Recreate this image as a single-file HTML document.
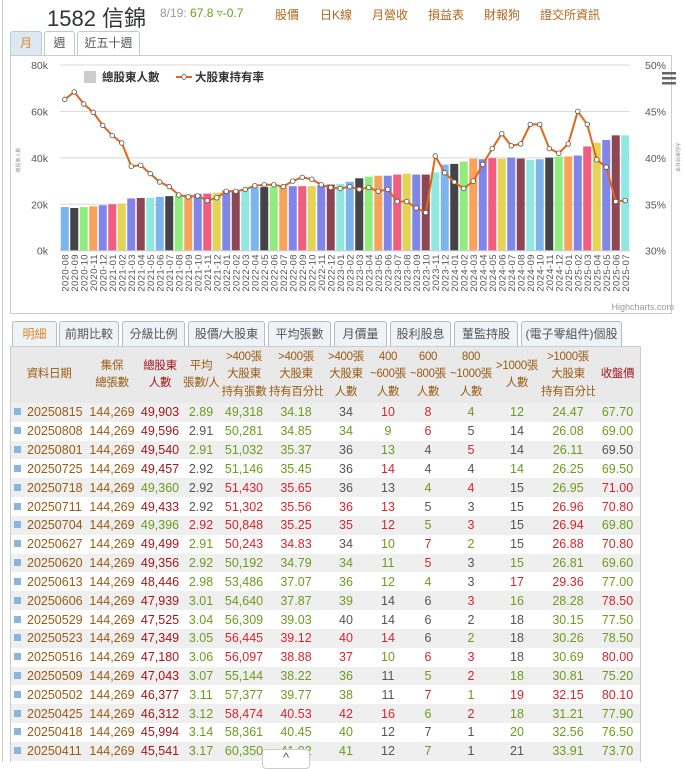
<!DOCTYPE html>
<html><head><meta charset="utf-8">
<style>
*{box-sizing:border-box;margin:0;padding:0}
body{width:685px;height:762px;overflow:hidden;background:#fff;font-family:"Liberation Sans","Noto Sans CJK TC",sans-serif;position:relative;color:#444}
.abs{position:absolute}
.lnk{position:absolute;top:6px;font-size:12px;color:#b0661f}
.tab{position:absolute;border:1px solid #bcc;border-bottom:none;border-radius:3px 3px 0 0;background:#eef4f8;font-size:12px;color:#555;text-align:center;line-height:22px}
.ttab{position:absolute;top:321px;height:26px;border:1px solid #bbb;border-bottom:none;border-radius:3px 3px 0 0;background:#eef3f7;font-size:12px;color:#555;text-align:center;line-height:24px}
table{position:absolute;left:11px;top:347px;width:629px;border-collapse:collapse;font-size:12.5px;table-layout:fixed}
th{font-weight:normal;color:#9a5b13;background:#e9e9e9;font-size:11.5px;line-height:17.5px;padding:0;white-space:nowrap;overflow:hidden;letter-spacing:-0.3px}
thead tr{height:56px}
td{height:18.83px;padding:0;text-align:center;white-space:nowrap}
tr.z td{background:#efefef}
td.d{color:#9a5b13;text-align:left;padding-left:3px}
td.d:before{content:"";display:inline-block;width:7px;height:7px;background:#8ab6dc;margin-right:6px;vertical-align:1px}
.G{color:#6d9b1e}.R{color:#d4262f}.K{color:#555}.B{color:#9a5b13}.D{color:#a3161b}
</style></head><body>
<div class="abs" style="left:2px;top:0;width:1px;height:762px;background:#ccc"></div>
<div class="abs" style="left:47px;top:1px;font-size:22px;color:#333">1582 信錦</div>
<div class="abs" style="left:160px;top:6px;font-size:12px;color:#999">8/19: <span style="color:#6d9b1e">67.8</span> <span style="color:#6d9b1e">▿-0.7</span></div>
<a class="lnk" style="left:275px">股價</a>
<a class="lnk" style="left:320px">日K線</a>
<a class="lnk" style="left:372px">月營收</a>
<a class="lnk" style="left:428px">損益表</a>
<a class="lnk" style="left:484px">財報狗</a>
<a class="lnk" style="left:540px">證交所資訊</a>

<div class="tab" style="left:10px;top:31px;width:32px;height:25px;color:#e0852a;background:#dde9f2">月</div>
<div class="tab" style="left:44px;top:31px;width:31px;height:25px;background:#fff">週</div>
<div class="tab" style="left:77px;top:31px;width:63px;height:25px;background:#fff">近五十週</div>

<div class="abs" style="left:10px;top:55px;width:662px;height:259px;border:1px solid #ccc"></div>
<svg class="abs" style="left:0;top:0" width="685" height="320" id="chart" font-family="Liberation Sans, Noto Sans CJK TC, sans-serif"></svg>

<div class="ttab" style="left:12px;width:45px;color:#e0852a">明細</div>
<div class="ttab" style="left:59px;width:60px">前期比較</div>
<div class="ttab" style="left:122px;width:63px">分級比例</div>
<div class="ttab" style="left:188px;width:77px">股價/大股東</div>
<div class="ttab" style="left:268px;width:63px">平均張數</div>
<div class="ttab" style="left:334px;width:53px">月價量</div>
<div class="ttab" style="left:390px;width:61px">股利股息</div>
<div class="ttab" style="left:454px;width:64px">董監持股</div>
<div class="ttab" style="left:521px;width:101px">(電子零組件)個股</div>
<div class="abs" style="left:10px;top:346px;width:631px;height:416px;border:1px solid #ccc;border-bottom:none"></div>

<table id="tbl">
<colgroup><col style="width:76px"><col style="width:50px"><col style="width:46px"><col style="width:36px"><col style="width:50px"><col style="width:54px"><col style="width:46px"><col style="width:38px"><col style="width:42px"><col style="width:44px"><col style="width:48px"><col style="width:54px"><col style="width:45px"></colgroup>
<thead><tr>
<th>資料日期</th>
<th>集保<br>總張數</th>
<th style="color:#a3161b">總股東<br>人數</th>
<th>平均<br>張數/人</th>
<th>&gt;400張<br>大股東<br>持有張數</th>
<th>&gt;400張<br>大股東<br>持有百分比</th>
<th>&gt;400張<br>大股東<br>人數</th>
<th>400<br>~600張<br>人數</th>
<th>600<br>~800張<br>人數</th>
<th>800<br>~1000張<br>人數</th>
<th>&gt;1000張<br>人數</th>
<th>&gt;1000張<br>大股東<br>持有百分比</th>
<th style="color:#a3161b">收盤價</th>
</tr></thead><tbody id="tb"></tbody></table>

<div class="abs" style="left:262px;top:749px;width:48px;height:20px;border:1px solid #ccc;border-radius:4px;background:#fff;text-align:center;font-size:13px;color:#555">^</div>

<script>
const months=[];for(let y=2020;y<=2025;y++)for(let m=1;m<=12;m++){if((y===2020&&m<8)||(y===2025&&m>7))continue;months.push(y+'-'+String(m).padStart(2,'0'));}
const holders=[18.8,18.4,18.8,19.1,19.6,20.0,20.3,22.5,22.7,22.8,23.2,23.5,24.2,24.2,24.5,24.6,25.0,26.0,26.1,26.6,27.3,27.4,27.5,27.5,27.8,27.8,27.8,28.2,28.5,28.8,29.7,31.2,31.9,32.3,32.3,32.8,33.2,32.8,32.8,33.8,37.1,37.4,38.4,39.7,39.4,39.9,39.6,40.1,39.7,39.1,39.4,40.1,40.6,40.6,41.0,44.9,46.5,47.7,49.7,49.7];
const ratio=[46.3,47.1,45.8,44.9,43.5,42.4,41.6,39.1,39.2,38.3,37.4,36.9,36.0,35.8,35.9,35.4,35.7,36.4,36.4,36.6,37.0,37.1,37.1,36.9,37.5,37.9,37.7,37.1,36.8,36.7,36.9,36.6,36.8,36.4,36.6,35.3,35.3,34.6,34.1,40.2,38.4,37.4,36.7,37.5,39.3,41.0,42.6,41.3,41.5,43.6,43.6,41.0,40.5,41.5,45.0,43.6,39.8,39.0,35.3,35.4];
const leftTicks=['0k','20k','40k','60k','80k'];
const rightTicks=['30%','35%','40%','45%','50%'];
const colors=['#7cb5ec','#434348','#90ed7d','#f7a35c','#8085e9','#f15c80','#e4d354','#8085e8','#8d4653','#91e8e1'];
const NS='http://www.w3.org/2000/svg',svg=document.getElementById('chart');
const X0=60,X1=630,Y0=250.7,Y1=65;
const xs=i=>X0+(X1-X0)/months.length*(i+0.5);
const yL=v=>Y0-v/80*(Y0-Y1);
const yR=p=>Y0-(p-30)/20*(Y0-Y1);
function mk(t,a){const e=document.createElementNS(NS,t);for(const k in a)e.setAttribute(k,a[k]);svg.appendChild(e);return e;}
leftTicks.forEach((t,i)=>{const y=Y0-i*(Y0-Y1)/4;
 const g=mk('line',{x1:X0,x2:X1,y1:y,y2:y,stroke:'#d8d8d8','stroke-width':1});
 
 const a=mk('text',{x:48,y:y+4,'text-anchor':'end','font-size':10.5,fill:'#555'});a.textContent=t;
 
 const b=mk('text',{x:645,y:y+4,'font-size':10.5,fill:'#555'});b.textContent=rightTicks[i];
 });
const bw=(X1-X0)/months.length-1.5;
holders.forEach((v,i)=>{const r=mk('rect',{x:xs(i)-bw/2,y:yL(v),width:bw,height:Y0-yL(v),fill:colors[i%10]});
 
 const t=mk('text',{transform:`translate(${xs(i)+3.5},254) rotate(-90)`,'text-anchor':'end','font-size':9.5,fill:'#555','letter-spacing':'0.4'});t.textContent=months[i];
 });
const ax=mk('line',{x1:X0,x2:X1,y1:Y0,y2:Y0,stroke:'#ccd',});
const pl=mk('polyline',{points:ratio.map((p,i)=>xs(i)+','+yR(p)).join(' '),fill:'none',stroke:'#e0661a','stroke-width':2});

ratio.forEach((p,i)=>{const c=mk('circle',{cx:xs(i),cy:yR(p),r:2.3,fill:'#fff',stroke:'#555','stroke-width':0.8});
 });
let e=mk('rect',{x:84,y:71,width:12,height:12,fill:'#ccc'});
e=mk('text',{x:102,y:81,'font-size':11.5,'font-weight':'bold',fill:'#333'});e.textContent='總股東人數';
e=mk('line',{x1:176,x2:192,y1:77,y2:77,stroke:'#e0661a','stroke-width':2});
e=mk('circle',{cx:184,cy:77,r:2.3,fill:'#fff',stroke:'#555','stroke-width':0.8});
e=mk('text',{x:195,y:81,'font-size':11.5,'font-weight':'bold',fill:'#333'});e.textContent='大股東持有率';
e=mk('text',{transform:'translate(20,160) rotate(-90)','text-anchor':'middle','font-size':5,fill:'#999'});e.textContent='總股東人數';
e=mk('text',{transform:'translate(676,157) rotate(90)','text-anchor':'middle','font-size':5,fill:'#999'});e.textContent='大股東持有率';
e=mk('text',{x:674,y:310,'text-anchor':'end','font-size':9,fill:'#999'});e.textContent='Highcharts.com';
for(let k=0;k<3;k++){e=mk('rect',{x:662,y:72+k*5,width:14,height:2.5,fill:'#666'});}

const rows=[
'20250815|49,903 D|2.89 G|49,318 G|34.18 G|34 K|10 R|8 R|4 G|12 G|24.47 G|67.70 G',
'20250808|49,596 D|2.91 K|50,281 G|34.85 G|34 G|9 G|6 R|5 K|14 K|26.08 G|69.00 G',
'20250801|49,540 D|2.91 G|51,032 G|35.37 G|36 K|13 G|4 K|5 R|14 K|26.11 G|69.50 K',
'20250725|49,457 D|2.92 K|51,146 G|35.45 G|36 K|14 R|4 K|4 K|14 G|26.25 G|69.50 G',
'20250718|49,360 G|2.92 K|51,430 R|35.65 R|36 K|13 K|4 G|4 R|15 K|26.95 G|71.00 R',
'20250711|49,433 D|2.92 K|51,302 R|35.56 R|36 R|13 R|5 K|3 K|15 K|26.96 R|70.80 R',
'20250704|49,396 G|2.92 R|50,848 R|35.25 R|35 R|12 R|5 G|3 R|15 K|26.94 R|69.80 G',
'20250627|49,499 D|2.91 G|50,243 R|34.83 R|34 K|10 G|7 R|2 G|15 K|26.88 R|70.80 R',
'20250620|49,356 D|2.92 G|50,192 G|34.79 G|34 G|11 G|5 R|3 K|15 G|26.81 G|69.60 G',
'20250613|48,446 D|2.98 G|53,486 G|37.07 G|36 G|12 G|4 G|3 K|17 R|29.36 R|77.00 G',
'20250606|47,939 D|3.01 G|54,640 G|37.87 G|39 G|14 K|6 K|3 R|16 G|28.28 G|78.50 R',
'20250529|47,525 D|3.04 G|56,309 G|39.03 G|40 K|14 K|6 K|2 K|18 K|30.15 G|77.50 G',
'20250523|47,349 D|3.05 G|56,445 R|39.12 R|40 R|14 R|6 K|2 G|18 K|30.26 G|78.50 G',
'20250516|47,180 D|3.06 G|56,097 R|38.88 R|37 R|10 G|6 R|3 R|18 K|30.69 G|80.00 R',
'20250509|47,043 D|3.07 G|55,144 G|38.22 G|36 G|11 K|5 G|2 R|18 G|30.81 G|75.20 G',
'20250502|46,377 D|3.11 G|57,377 G|39.77 G|38 G|11 K|7 R|1 G|19 R|32.15 R|80.10 R',
'20250425|46,312 D|3.12 G|58,474 R|40.53 R|42 R|16 R|6 G|2 R|18 G|31.21 G|77.90 G',
'20250418|45,994 D|3.14 G|58,361 G|40.45 G|40 G|12 K|7 K|1 K|20 G|32.56 G|76.50 G',
'20250411|45,541 D|3.17 G|60,350 G|41.02 G|41 G|12 K|7 G|1 K|21 K|33.91 G|73.70 G'];
const tb=document.getElementById('tb');
rows.forEach((r,i)=>{const tr=document.createElement('tr');if(i%2===0)tr.className='z';
 
 
 const p=r.split('|');
 let h='<td class="d">'+p[0]+'</td><td class="B">144,269</td>';
 for(let k=1;k<p.length;k++){const [v,c]=p[k].split(' ');h+='<td class="'+c+'">'+v+'</td>';}
 tr.innerHTML=h;tb.appendChild(tr);});
</script>
</body></html>
